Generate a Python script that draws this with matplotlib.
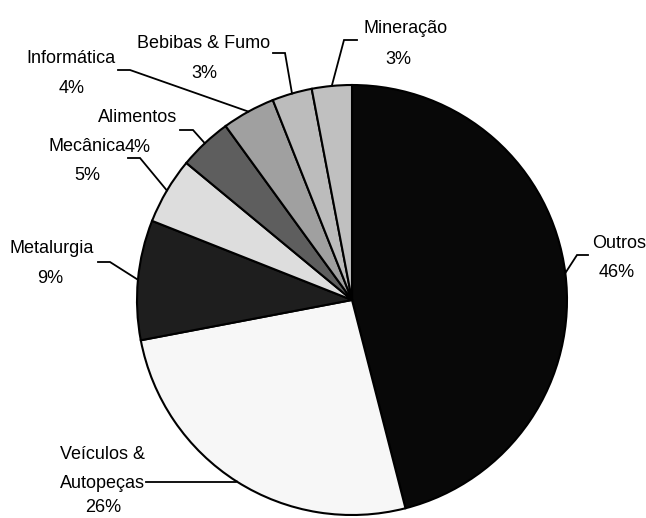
import numpy as np
import matplotlib
matplotlib.use("Agg")
import matplotlib.pyplot as plt

plt.rcParams['font.family'] = ['Liberation Sans', 'DejaVu Sans']

# ---- data ----
categories = ["Outros", "Veículos &\nAutopeças", "Metalurgia", "Mecânica",
              "Alimentos", "Informática", "Bebibas & Fumo", "Mineração"]
values = [46, 26, 9, 5, 4, 4, 3, 3]
colors = ["#080808", "#f7f7f7", "#1e1e1e", "#dddddd",
          "#5e5e5e", "#a0a0a0", "#bcbcbc", "#c0c0c0"]

W, H = 646, 518
fig = plt.figure(figsize=(W / 100, H / 100), dpi=100)
ax = fig.add_axes([0, 0, 1, 1])

def P(x, y):
    """pixel coords (y down) -> data coords (y up)"""
    return x, H - y

cx, cy = P(352, 300)
R = 215
wedges, _ = ax.pie(values, colors=colors, startangle=90, counterclock=False,
                   radius=R, center=(cx, cy), frame=True,
                   wedgeprops=dict(edgecolor="black", linewidth=1.5))
ax.set_xlim(0, W)
ax.set_ylim(0, H)
ax.set_aspect('equal')
ax.axis('off')

# label layout (pixel coords, y down):
# (name x, name baseline y, pct x, pct baseline y, line end, elbow)
layout = {
    "Outros":         (619, 248, 617, 277, (588, 255), (577, 255)),
    "Veículos &\nAutopeças": (102, 459, 103, 512, (146, 482), (236, 482)),
    "Metalurgia":     (52, 253, 50, 283, (98, 262), (110, 262)),
    "Mecânica":       (87, 151, 87, 180, (128, 158), (140, 158)),
    "Alimentos":      (138, 122, 138, 152, (180, 130), (193, 130)),
    "Informática":    (71, 63, 72, 93, (118, 70), (130, 70)),
    "Bebibas & Fumo": (204, 48, 204, 78, (273, 53), (285, 53)),
    "Mineração":      (406, 33, 398, 64, (357, 40), (344, 40)),
}

fs = 13
line_step = 29
for w, cat, v in zip(wedges, categories, values):
    nx, ny, px, py, end, elbow = layout[cat]
    for i, line in enumerate(cat.split("\n")):
        ax.text(*P(nx, ny + i * line_step), line, ha="center", va="baseline",
                fontsize=fs)
    ax.text(*P(px, py), f"{v}%", ha="center", va="baseline", fontsize=fs)
    mid = np.deg2rad((w.theta1 + w.theta2) / 2)
    ax_x = cx + R * np.cos(mid)
    ax_y = cy + R * np.sin(mid)
    ex, ey = P(*end)
    bx, by = P(*elbow)
    ax.plot([ex, bx, ax_x], [ey, by, ax_y], color="black", lw=1.3,
            solid_joinstyle="miter")

fig.savefig("out.png", dpi=100, facecolor="white")
